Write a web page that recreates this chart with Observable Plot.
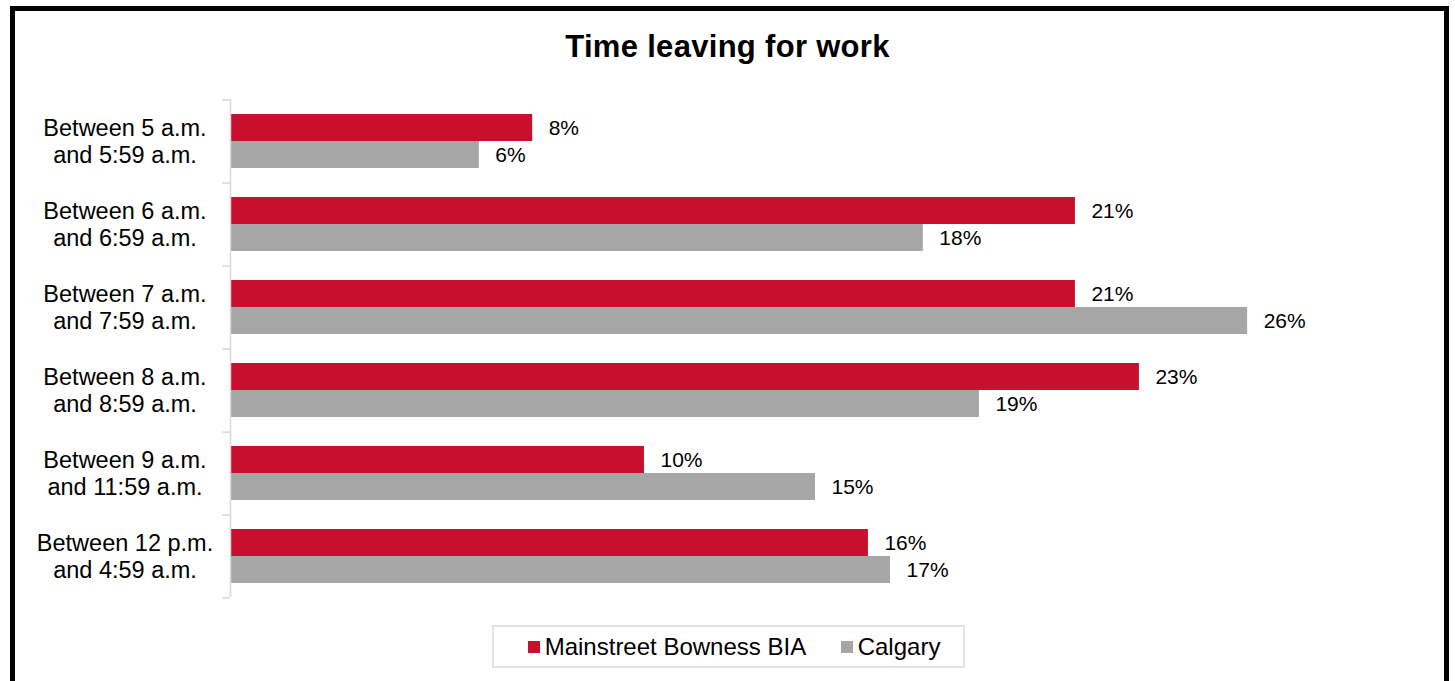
<!DOCTYPE html>
<html>
<head>
<meta charset="utf-8">
<script src="https://cdn.jsdelivr.net/npm/d3@7"></script>
<script src="https://cdn.jsdelivr.net/npm/@observablehq/plot@0.6"></script>
<style>
  html, body { margin: 0; padding: 0; background: #fff; }
  body { width: 1455px; height: 681px; overflow: hidden; position: relative; font-family: "Liberation Sans", Arial, sans-serif; }
  #frame { position: absolute; left: 10px; top: 6px; width: 1439px; height: 720px; border: 5px solid #000; box-sizing: border-box; }
  #title { position: absolute; left: 0; top: 29px; width: 1455px; text-align: center; font-weight: bold; font-size: 31px; line-height: 36px; letter-spacing: 0.3px; color: #000; }
  #chart { position: absolute; left: 0; top: 80px; }
  #legend { position: absolute; left: 492px; top: 625px; width: 473px; height: 43px; box-sizing: border-box; border: 2px solid #e3e3e3; font-size: 24px; color: #000; }
  .item { position: absolute; top: 0; height: 39px; display: flex; align-items: center; }
  .sw { width: 12px; height: 12px; margin-right: 5px; }
</style>
</head>
<body>
<div id="frame"></div>
<div id="title">Time leaving for work</div>
<div id="chart"></div>
<div id="legend"></div>
<script>
// Data
const categories = ["5am", "6am", "7am", "8am", "9am", "12pm"];
const categoryLabels = [
  "Between 5 a.m.\nand 5:59 a.m.",
  "Between 6 a.m.\nand 6:59 a.m.",
  "Between 7 a.m.\nand 7:59 a.m.",
  "Between 8 a.m.\nand 8:59 a.m.",
  "Between 9 a.m.\nand 11:59 a.m.",
  "Between 12 p.m.\nand 4:59 a.m."
];
const seriesNames = ["Mainstreet Bowness BIA", "Calgary"];
const seriesColors = ["#C8102E", "#A6A6A6"];
const bowness = [7.65, 21.39, 21.39, 23.01, 10.48, 16.15];
const calgary = [6.30, 17.54, 25.75, 18.96, 14.81, 16.71];

const rows = [];
categories.forEach((c, i) => {
  rows.push({category: c, series: seriesNames[0], value: bowness[i]});
  rows.push({category: c, series: seriesNames[1], value: calgary[i]});
});
const labelOf = new Map(categories.map((c, i) => [c, categoryLabels[i]]));

const chart = Plot.plot({
  width: 1455,
  height: 530,
  marginLeft: 230,
  marginRight: 40,
  marginTop: 18,
  marginBottom: 12,
  style: { fontFamily: "'Liberation Sans', Arial, sans-serif", color: "#000", background: "transparent" },
  x: { domain: [0, 30], axis: null },
  y: { domain: seriesNames, paddingInner: 0, paddingOuter: 0.515, axis: null },
  fy: { domain: categories, padding: 0, axis: null },
  color: { domain: seriesNames, range: seriesColors },
  marks: [
    Plot.barX(rows, { x: "value", y: "series", fy: "category", fill: "series" }),
    Plot.ruleX([0], { stroke: "#d9d9d9", strokeWidth: 1.5 }),
    Plot.ruleY(categories, { fy: d => d, y: () => seriesNames[0], x1: -0.2, x2: 0, dy: -27.9, stroke: "#d9d9d9", strokeWidth: 1.5 }),
    Plot.ruleY(categories.slice(-1), { fy: d => d, y: () => seriesNames[1], x1: -0.2, x2: 0, dy: 27.9, stroke: "#d9d9d9", strokeWidth: 1.5 }),
    Plot.text(rows, { x: "value", y: "series", fy: "category", text: d => Math.round(d.value) + "%", dx: 16, textAnchor: "start", fontSize: 21, fill: "#000" }),
    Plot.text(categories, { fy: d => d, text: d => labelOf.get(d), frameAnchor: "left", dx: -105.5, textAnchor: "middle", fontSize: 23.5, lineHeight: 1.136, fill: "#000" })
  ]
});
document.getElementById("chart").appendChild(chart);

// Legend
const legend = document.getElementById("legend");
seriesNames.forEach((name, i) => {
  const item = document.createElement("div");
  item.className = "item";
  item.style.left = (i === 0 ? 33.7 : 346.7) + "px";
  const sw = document.createElement("div");
  sw.className = "sw";
  sw.style.background = seriesColors[i];
  const tx = document.createElement("span");
  tx.textContent = name;
  item.appendChild(sw);
  item.appendChild(tx);
  legend.appendChild(item);
});
</script>
</body>
</html>
